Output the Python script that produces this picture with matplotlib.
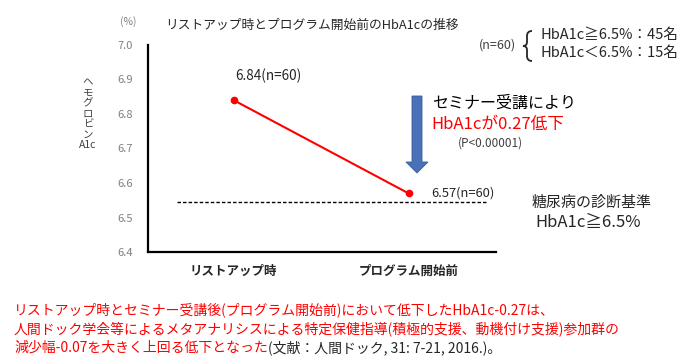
import matplotlib
matplotlib.use("Agg")
import matplotlib.pyplot as plt
from matplotlib.patches import Polygon
from matplotlib.path import Path
from matplotlib.patches import PathPatch

plt.rcParams['font.family'] = ['Noto Sans CJK JP', 'DejaVu Sans']

categories = ["リストアップ時", "プログラム開始前"]
values = [6.84, 6.57]
point_labels = ["6.84(n=60)", "6.57(n=60)"]
yticks = [6.4, 6.5, 6.6, 6.7, 6.8, 6.9, 7.0]
criterion = 6.545

W, H = 686, 363
fig = plt.figure(figsize=(W / 100, H / 100), dpi=100)


def fx(x):
    return x / W


def fy(y):
    return 1 - y / H


def px(x, y):
    return (x / W, 1 - y / H)


ax = fig.add_axes([fx(148), fy(252), (496 - 148) / W, (252 - 45) / H])
ax.set_ylim(6.4, 7.0)
ax.set_xlim(-0.49, 1.5)
ax.set_yticks(yticks)
ax.set_yticklabels([f"{t:.1f}" for t in yticks], color="#808080", fontsize=8)
ax.set_xticks(range(len(categories)))
ax.set_xticklabels(categories, fontsize=9, color="#262626", fontweight="bold")
ax.tick_params(axis="y", length=0, pad=11)
ax.tick_params(axis="x", length=0, pad=9)
for s in ["top", "right"]:
    ax.spines[s].set_visible(False)
for s in ["left", "bottom"]:
    ax.spines[s].set_linewidth(1.6)
    ax.spines[s].set_color("black")

xs = list(range(len(values)))
ax.plot(xs, values, color="#FF0000", linewidth=1.5, marker="o", markersize=4.5, zorder=3)
ax.plot([-0.326, 1.45], [criterion, criterion], color="black", linestyle=(0, (2.5, 1.5)),
        linewidth=1.0, zorder=2)

ax.annotate(point_labels[0], xy=(xs[0], values[0]), xytext=(1, 12), textcoords="offset points",
            fontsize=9.8, color="#262626", ha="left", va="bottom")
ax.annotate(point_labels[1], xy=(xs[1], values[1]), xytext=(16, 0), textcoords="offset points",
            fontsize=9.3, color="#262626", ha="left", va="center")

# down arrow (figure pixel geometry)
arrow_pts = [px(412, 96), px(422, 96), px(422, 162), px(428, 162), px(417, 173),
             px(406, 162), px(412, 162)]
fig.patches.append(Polygon(arrow_pts, closed=True, transform=fig.transFigure,
                           facecolor="#4A70B8", edgecolor="#3B5C99", linewidth=0.6))

# brace
verts = [px(532, 31), px(527, 31), px(527, 36),
         px(527, 42),
         px(527, 46), px(523, 46),
         px(527, 46), px(527, 50),
         px(527, 56),
         px(527, 61), px(532, 61)]
codes = [Path.MOVETO, Path.CURVE3, Path.CURVE3,
         Path.LINETO,
         Path.CURVE3, Path.CURVE3,
         Path.CURVE3, Path.CURVE3,
         Path.LINETO,
         Path.CURVE3, Path.CURVE3]
fig.patches.append(PathPatch(Path(verts, codes), transform=fig.transFigure, facecolor="none",
                             edgecolor="#262626", linewidth=1.3))

fig.text(fx(128), fy(22), "(%)", fontsize=7.5, color="#808080", ha="center", va="center")
fig.text(fx(165), fy(25), "リストアップ時とプログラム開始前のHbA1cの推移", fontsize=9.2,
         color="#262626", ha="left", va="center")
fig.text(fx(497), fy(45), "(n=60)", fontsize=9, color="#404040", ha="center", va="center")
fig.text(fx(540), fy(35), "HbA1c≧6.5%：45名", fontsize=10.5, color="#262626", ha="left", va="center")
fig.text(fx(540), fy(53), "HbA1c＜6.5%：15名", fontsize=10.5, color="#262626", ha="left", va="center")

fig.text(fx(432), fy(103), "セミナー受講により", fontsize=11.5, color="black", ha="left", va="center")
fig.text(fx(431), fy(124), "HbA1cが0.27低下", fontsize=12, color="#FF0000", ha="left", va="center")
fig.text(fx(458), fy(143), "(P<0.00001)", fontsize=8.5, color="#404040", ha="left", va="center")

fig.text(fx(532), fy(203), "糖尿病の診断基準", fontsize=10.8, color="#262626", ha="left", va="center")
fig.text(fx(535), fy(222), "HbA1c≧6.5%", fontsize=12, color="#262626", ha="left", va="center")

ylabel_chars = list("ヘモグロビン") + ["A1c"]
for i, ch in enumerate(ylabel_chars):
    fig.text(fx(88), fy(82 + 10.5 * i), ch, fontsize=7.5, color="#404040",
             ha="center", va="center")

lines = ["リストアップ時とセミナー受講後(プログラム開始前)において低下したHbA1c-0.27は、",
         "人間ドック学会等によるメタアナリシスによる特定保健指導(積極的支援、動機付け支援)参加群の"]
line3_red = "減少幅-0.07を大きく上回る低下となった"
line3_black = "(文献：人間ドック, 31: 7-21, 2016.)。"
ys = [310, 329, 348]
for t, y in zip(lines, ys):
    fig.text(fx(14), fy(y), t, fontsize=10, color="#FF0000", ha="left", va="center")
t3 = fig.text(fx(14), fy(ys[2]), line3_red, fontsize=10, color="#FF0000", ha="left", va="center")
fig.canvas.draw()
bb = t3.get_window_extent(renderer=fig.canvas.get_renderer())
fig.text(bb.x1 / W, fy(ys[2]), line3_black, fontsize=10, color="#262626", ha="left", va="center")

fig.savefig("out.png", dpi=100)
